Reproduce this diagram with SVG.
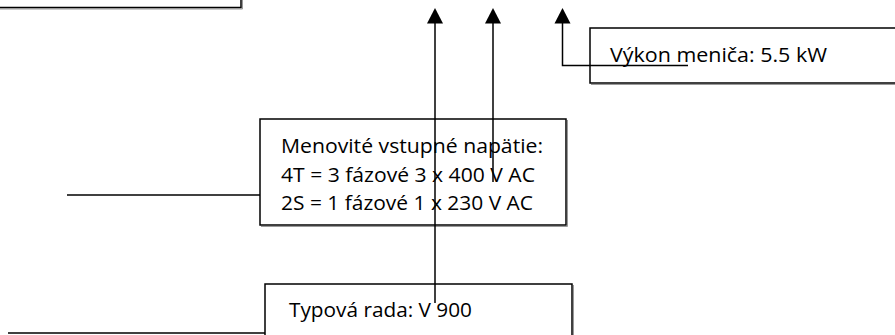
<svg xmlns="http://www.w3.org/2000/svg" width="895" height="335" viewBox="0 0 895 335">
<style>
.box{fill:#fff;stroke:#000;stroke-width:1.5}
.sh{fill:none;stroke:#999;stroke-width:1}
.ln{fill:none;stroke:#000;stroke-width:1.5}
.ah{fill:#000}
.t{font-family:"Open Sans","Noto Sans","Liberation Sans",sans-serif;font-size:20px;fill:#000}
</style>
<rect width="895" height="335" fill="#fff"/>
<g id="node-top">
<polyline class="sh" points="242.5,-2 242.5,9 -2,9"/>
<rect class="box" x="-5" y="-5" width="246" height="12.5"/>
</g>
<g id="node-vykon">
<polyline class="sh" points="895,84.5 591,84.5"/>
<rect class="box" x="590" y="28" width="310" height="55"/>
<text class="t" x="610" y="62" textLength="217" lengthAdjust="spacingAndGlyphs">Výkon meniča: 5.5 kW</text>
</g>
<g id="node-menovite">
<polyline class="sh" points="567.5,120 567.5,226.5 261,226.5"/>
<rect class="box" x="260" y="119" width="306" height="106"/>
<text class="t" x="281" y="153" textLength="262" lengthAdjust="spacingAndGlyphs">Menovité vstupné napätie:</text>
<text class="t" x="281" y="182" textLength="254" lengthAdjust="spacingAndGlyphs">4T = 3 fázové 3 x 400 V AC</text>
<text class="t" x="281" y="210" textLength="252" lengthAdjust="spacingAndGlyphs">2S = 1 fázové 1 x 230 V AC</text>
</g>
<g id="node-typova">
<polyline class="sh" points="573.5,285 573.5,340"/>
<rect class="box" x="265" y="284" width="307" height="60"/>
<text class="t" x="289" y="317" textLength="183" lengthAdjust="spacingAndGlyphs">Typová rada: V 900</text>
</g>
<g id="connectors">
<line class="ln" x1="435" y1="22" x2="435" y2="303"/>
<line class="ln" x1="493" y1="22" x2="493" y2="182"/>
<polyline class="ln" points="562.5,22 562.5,65.5 688,65.5"/>
<line class="ln" x1="67" y1="195" x2="260" y2="195"/>
<line class="ln" x1="8" y1="333" x2="265" y2="333"/>
<polygon class="ah" points="435,8 427,23.5 443,23.5"/>
<polygon class="ah" points="493,8 485,23.5 501,23.5"/>
<polygon class="ah" points="562.5,8 554.5,23.5 570.5,23.5"/>
</g>
</svg>
